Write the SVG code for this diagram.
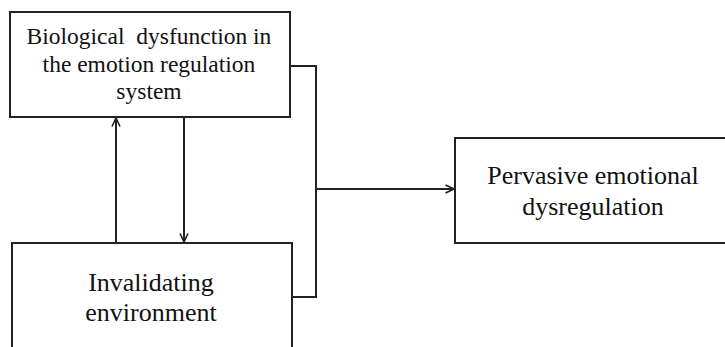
<svg xmlns="http://www.w3.org/2000/svg" width="725" height="347" viewBox="0 0 725 347">
<style>
.box{fill:#fff;stroke:#222;stroke-width:2}
.ln{fill:none;stroke:#222;stroke-width:2}
.t{font-family:"Liberation Serif","Times New Roman",serif;fill:#111;text-anchor:middle}
</style>
<defs>
<marker id="ah" viewBox="0 0 10 10" refX="9.5" refY="5" markerWidth="10" markerHeight="10" markerUnits="userSpaceOnUse" orient="auto">
<path d="M1,1 L9.5,5 L1,9" fill="none" stroke="#222" stroke-width="1.6"/>
</marker>
</defs>
<rect width="725" height="347" fill="#fff"/>
<g id="connectors">
<path class="ln" d="M290,66 H316 V297 H292"/>
<path class="ln" d="M316,189 H454" marker-end="url(#ah)"/>
<path class="ln" d="M116,243 V118" marker-end="url(#ah)"/>
<path class="ln" d="M184,117 V242" marker-end="url(#ah)"/>
</g>
<g id="node-bio">
<rect class="box" x="10" y="12" width="280" height="105"/>
<text class="t" font-size="23.5" x="149" y="44" xml:space="preserve">Biological  dysfunction in</text>
<text class="t" font-size="23.5" x="149" y="72">the emotion regulation</text>
<text class="t" font-size="23.5" x="149" y="99">system</text>
</g>
<g id="node-env">
<rect class="box" x="12" y="243" width="280" height="120"/>
<text class="t" font-size="26" x="151" y="291">Invalidating</text>
<text class="t" font-size="26" x="151" y="321">environment</text>
</g>
<g id="node-ped">
<rect class="box" x="455" y="138" width="280" height="105"/>
<text class="t" font-size="26" x="593" y="184">Pervasive emotional</text>
<text class="t" font-size="26" x="593" y="215">dysregulation</text>
</g>
</svg>
